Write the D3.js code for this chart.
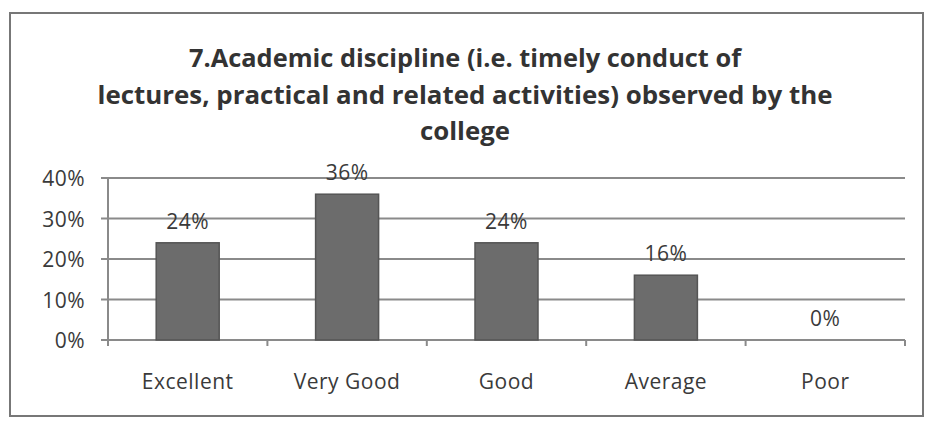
<!DOCTYPE html>
<html><head><meta charset="utf-8">
<script src="https://cdn.jsdelivr.net/npm/d3@7"></script>
<style>body{margin:0;background:#fff}svg{display:block}</style>
</head><body>
<svg id="c" width="930" height="421"></svg>
<script>
const categories = ["Excellent","Very Good","Good","Average","Poor"];
const values = [0.24,0.36,0.24,0.16,0.00];
const valueLabels = ["24%","36%","24%","16%","0%"];
const yTicks = [0,0.1,0.2,0.3,0.4];
const yTickLabels = ["0%","10%","20%","30%","40%"];
const titleLines = ["7.Academic discipline (i.e. timely conduct of","lectures, practical and related activities) observed by the","college"];

(function(){
const svg = d3.select("#c");
const font = "Open Sans, Liberation Sans, sans-serif";
const txt = "#3a3a3a";

svg.append("rect").attr("x",10).attr("y",13).attr("width",913).attr("height",403)
  .attr("fill","#fff").attr("stroke","#777").attr("stroke-width",2);

const pL=108, pR=905, pT=178, pB=340;
const xOuter = d3.scaleBand().domain(categories).range([pL,pR]);
const y = d3.scaleLinear().domain([0,0.4]).range([pB,pT]);

// title
const titleY=[57,94,130];
const titleW=[552,735,90];
titleLines.forEach((t,i)=>{
  svg.append("text").attr("x",465).attr("y",titleY[i]).attr("text-anchor","middle")
    .attr("dominant-baseline","central").attr("font-family",font).attr("font-weight","bold")
    .attr("font-size",25).attr("fill","#333")
    .attr("textLength",titleW[i]).attr("lengthAdjust","spacingAndGlyphs").text(t);
});

// gridlines
svg.append("g").selectAll("line").data(yTicks).join("line")
  .attr("x1",pL-7).attr("x2",pR).attr("y1",d=>y(d)).attr("y2",d=>y(d))
  .attr("stroke","#8a8a8a").attr("stroke-width",2);

// y axis line
svg.append("line").attr("x1",pL).attr("x2",pL).attr("y1",pT).attr("y2",pB+4)
  .attr("stroke","#8a8a8a").attr("stroke-width",2);

// x ticks
const xt = categories.map(c=>xOuter(c)).concat([pR]);
svg.append("g").selectAll("line").data(xt).join("line")
  .attr("x1",d=>d).attr("x2",d=>d).attr("y1",pB).attr("y2",pB+6)
  .attr("stroke","#8a8a8a").attr("stroke-width",2);

// y labels
svg.append("g").selectAll("text").data(yTicks).join("text")
  .attr("x",85).attr("y",d=>y(d)).attr("text-anchor","end").attr("dominant-baseline","central")
  .attr("font-family",font).attr("font-size",21).attr("letter-spacing",0.5).attr("fill",txt)
  .text((d,i)=>yTickLabels[i]);

// bars
const bw = 63;
svg.append("g").selectAll("rect").data(values).join("rect")
  .attr("x",(d,i)=>xOuter(categories[i])+xOuter.bandwidth()/2-bw/2)
  .attr("y",d=>y(d)).attr("width",bw).attr("height",d=>pB-y(d))
  .attr("fill",d=>d>0?"#6c6c6c":"none").attr("stroke",d=>d>0?"#555":"none").attr("stroke-width",1.5);

// value labels
svg.append("g").selectAll("text").data(values).join("text")
  .attr("x",(d,i)=>xOuter(categories[i])+xOuter.bandwidth()/2)
  .attr("y",d=>y(d)-22).attr("text-anchor","middle").attr("dominant-baseline","central")
  .attr("font-family",font).attr("font-size",21).attr("letter-spacing",0.5).attr("fill",txt)
  .text((d,i)=>valueLabels[i]);

// category labels
svg.append("g").selectAll("text").data(categories).join("text")
  .attr("x",d=>xOuter(d)+xOuter.bandwidth()/2).attr("y",381)
  .attr("text-anchor","middle").attr("dominant-baseline","central")
  .attr("font-family",font).attr("font-size",21).attr("letter-spacing",0.5).attr("fill",txt)
  .text(d=>d);
})();
</script>
</body></html>
